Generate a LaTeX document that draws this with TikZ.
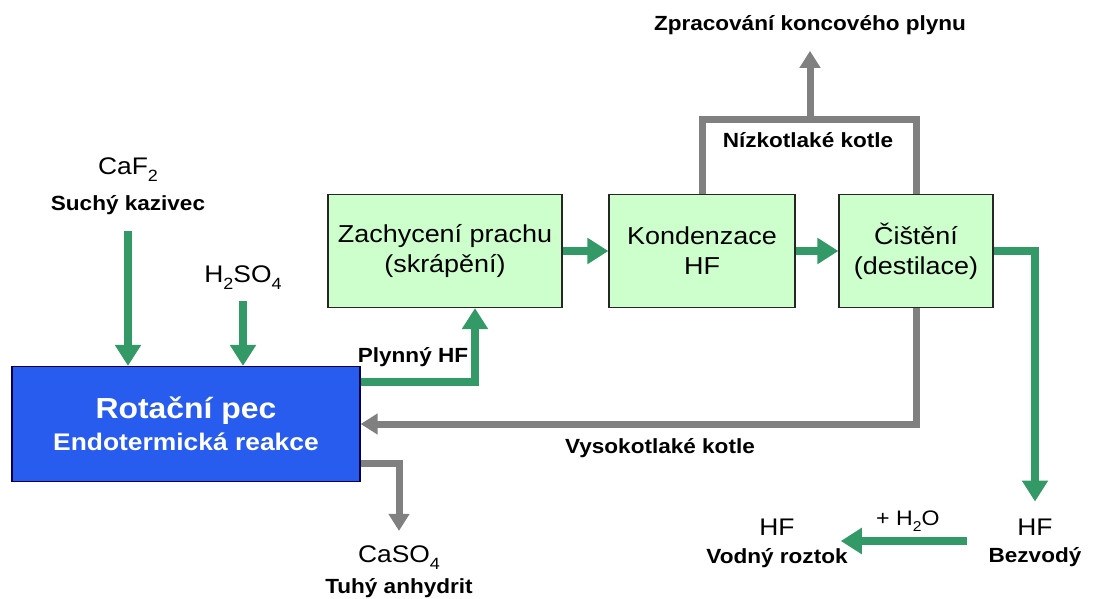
\documentclass[tikz,border=0pt]{standalone}
\usepackage{fontspec}
\setmainfont[FakeStretch=1.1]{Liberation Sans}
\usetikzlibrary{arrows.meta}

\definecolor{pipegreen}{RGB}{51,153,102}
\definecolor{pipegray}{RGB}{128,128,128}
\definecolor{boxgreen}{RGB}{204,255,204}
\definecolor{kilnblue}{RGB}{40,92,238}

% low-set index for the formulas
\newcommand{\ix}[1]{\raisebox{-0.55ex}{\scalebox{0.68}{#1}}}

\begin{document}
\begin{tikzpicture}[x=1pt,y=-1pt,
        unit/.style={draw=black!85,line width=1.2pt,fill=boxgreen,minimum height=113pt,
            align=center,font=\fontsize{24.5}{30}\selectfont},
        kiln/.style={draw=blue!30!black,line width=1.2pt,fill=kilnblue,text=white,
            align=center,font=\bfseries,minimum width=348pt,minimum height=115pt},
        txt/.style={font=\fontsize{24}{28}\selectfont,inner sep=1pt},
        lbl/.style={font=\fontsize{20.5}{24}\selectfont\bfseries,inner sep=1pt},
        gline/.style={draw=pipegreen,line width=8.5pt,-{Triangle[width=25pt,length=21pt]}},
        gpipe/.style={draw=pipegray,line width=7pt},
        garrow/.style={gpipe,-{Triangle[width=20pt,length=17pt]}}]
    \useasboundingbox (0,0) rectangle (1114,599);

    % process units
    \node[kiln] (pec) at (186,424) {{\fontsize{29}{34}\selectfont Rotační pec}\\[7pt]
        {\fontsize{24}{28}\selectfont Endotermická reakce}};
    \node[unit,minimum width=234pt] (prach) at (445,251) {Zachycení prachu\\(skrápění)};
    \node[unit,minimum width=186pt] (kond) at (702,251) {Kondenzace\\HF};
    \node[unit,minimum width=154pt] (cist) at (916,251) {Čištění\\(destilace)};

    % feeds and products
    \node[txt] (caf) at (128,170) {CaF\ix{2}};
    \node[lbl] (kaz) at (128,205) {Suchý kazivec};
    \node[txt] (kys) at (243,278) {H\ix{2}SO\ix{4}};
    \node[txt] (caso) at (399,558) {CaSO\ix{4}};
    \node[lbl] (anhy) at (399,588) {Tuhý anhydrit};
    \node[lbl] (zprac) at (810,25) {Zpracování koncového plynu};
    \node[txt] (bezv) at (1035,527) {HF};
    \node[lbl] (bezvl) at (1035,557) {Bezvodý};
    \node[txt] (vod) at (777,527) {HF};
    \node[lbl] (vodl) at (777,558) {Vodný roztok};

    % stream labels
    \node[lbl] (plyn) at (413,357) {Plynný HF};
    \node[lbl] (nizko) at (808,140) {Nízkotlaké kotle};
    \node[lbl] (vysoko) at (660,448) {Vysokotlaké kotle};

    % main HF line
    \draw[gline,shorten <=15pt] (kaz) -- (kaz |- pec.north);
    \draw[gline,shorten <=10pt] (kys) -- (kys |- pec.north);
    \draw[gline] ([yshift=-16pt]pec.north east) -| ([xshift=30pt]prach.south);
    \draw[gline] (prach) -- (kond);
    \draw[gline] (kond) -- (cist);
    \draw[gline,shorten >=16pt] (cist.east) -| (bezv);
    \coordinate (dil) at (967,541);
    \draw[gline,shorten >=-8pt] (dil) -- (vodl.east |- dil)
        node[midway,above=4pt,font=\fontsize{21}{24}\selectfont,inner sep=1pt] {+ H\ix{2}O};

    % boilers and off-gas
    \draw[gpipe] (kond.north) -- ++(0,-74) coordinate (nk) -| (cist.north);
    \draw[garrow,shorten >=15pt] (nk -| zprac) -- (zprac);
    \draw[garrow] (cist.south) |- (pec.east);
    \draw[garrow,shorten >=14pt] ([yshift=19pt]pec.south east) -| (caso);
\end{tikzpicture}
\end{document}
